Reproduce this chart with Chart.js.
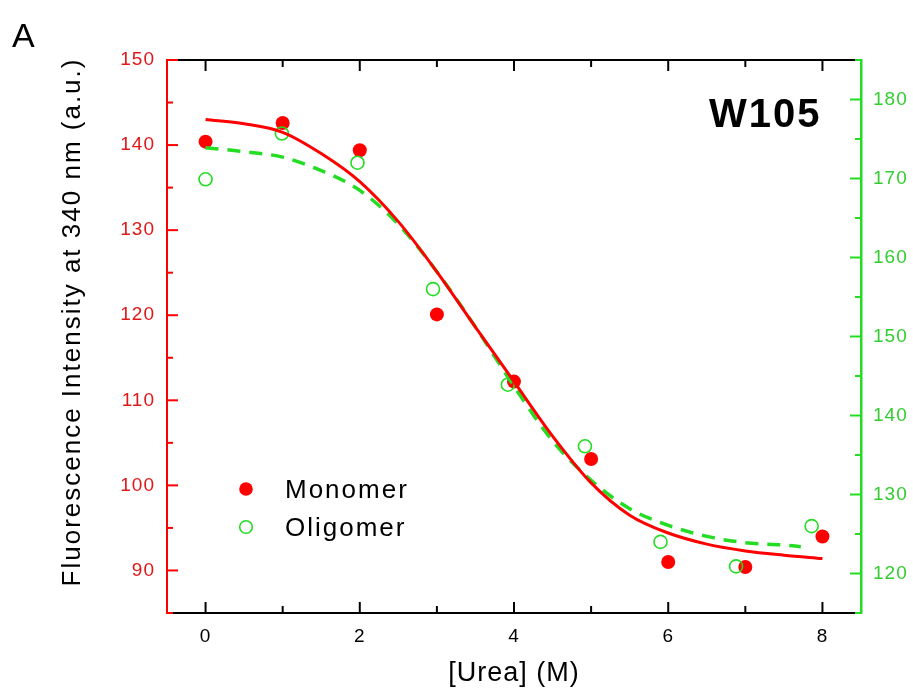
<!DOCTYPE html>
<html>
<head>
<meta charset="utf-8">
<script src="https://cdn.jsdelivr.net/npm/chart.js@4.4.1/dist/chart.umd.min.js"></script>
<style>
  html, body { margin: 0; padding: 0; background: #fff; }
  #wrap { width: 913px; height: 690px; }
</style>
</head>
<body>
<div id="wrap"><canvas id="chart" width="913" height="690"></canvas></div>
<script>
// W105 urea denaturation - fluorescence at 340 nm, monomer (left axis) vs oligomer (right axis)

const ureaMonomer = [0, 1, 2, 3, 4, 5, 6, 7, 8];
const monomerValues = [140.4, 142.6, 139.4, 120.1, 112.2, 103.1, 91.0, 90.4, 94.0];

const ureaOligomer = [0, 0.99, 1.97, 2.95, 3.92, 4.92, 5.9, 6.88, 7.86];
const oligomerValues = [169.9, 175.7, 172.0, 156.0, 143.9, 136.1, 124.0, 120.9, 126.0];

// fitted curves
const monomerFitUrea = [0, 0.5, 1, 1.5, 2, 2.5, 3, 3.5, 4, 4.5, 5, 5.5, 6, 6.5, 7, 7.5, 8];
const monomerFit = [143.0, 142.5, 141.5, 139.0, 135.7, 131.0, 125.1, 118.6, 112.2, 105.8, 100.3, 96.5, 94.4, 93.1, 92.3, 91.8, 91.4];

const oligomerFitUrea = [0, 0.5, 1, 1.5, 2, 2.5, 3, 3.5, 4, 4.5, 5, 5.5, 6, 6.5, 7, 7.5, 7.72];
const oligomerFit = [173.9, 173.4, 172.7, 171.0, 168.5, 164.2, 158.2, 151.2, 143.7, 136.8, 131.8, 128.2, 126.1, 124.7, 123.9, 123.6, 123.4];

// tick labels
const ureaTicks = [0, 2, 4, 6, 8];
const ureaMinorTicks = [1, 3, 5, 7];
const leftTicks = [90, 100, 110, 120, 130, 140, 150];
const leftMinorTicks = [85, 95, 105, 115, 125, 135, 145];
const rightTicks = [120, 130, 140, 150, 160, 170, 180];
const rightMinorTicks = [115, 125, 135, 145, 155, 165, 175, 185];

const RED = '#ff0000';
const RED_TEXT = '#e01818';
const GREEN = '#22dd22';
const GREEN_TEXT = '#33cc33';
const FONT = "'Liberation Sans', Arial, sans-serif";

Chart.defaults.font.family = FONT;

function toPoints(xs, ys) {
  return xs.map((x, i) => ({ x: x, y: ys[i] }));
}

function line(ctx, x1, y1, x2, y2) {
  ctx.beginPath();
  ctx.moveTo(x1, y1);
  ctx.lineTo(x2, y2);
  ctx.stroke();
}

// the original export spaces its letters a little wider than the canvas default
const spacingPlugin = {
  id: 'spacing',
  beforeDraw(chart) {
    chart.ctx.letterSpacing = '1px';
  }
};

// top frame line and inward tick marks on all four sides
const framePlugin = {
  id: 'frame',
  afterDraw(chart) {
    const { ctx, chartArea: a, scales } = chart;
    ctx.save();
    ctx.lineWidth = 2;

    ctx.strokeStyle = '#000';
    line(ctx, a.left, a.top, a.right, a.top);
    ureaTicks.forEach(v => {
      const px = scales.x.getPixelForValue(v);
      line(ctx, px, a.bottom, px, a.bottom - 11);
      line(ctx, px, a.top, px, a.top + 11);
    });
    ureaMinorTicks.forEach(v => {
      const px = scales.x.getPixelForValue(v);
      line(ctx, px, a.bottom, px, a.bottom - 7);
      line(ctx, px, a.top, px, a.top + 7);
    });

    ctx.strokeStyle = RED;
    leftTicks.forEach(v => {
      const py = scales.y.getPixelForValue(v);
      line(ctx, a.left, py, a.left + 11, py);
    });
    leftMinorTicks.forEach(v => {
      const py = scales.y.getPixelForValue(v);
      line(ctx, a.left, py, a.left + 6, py);
    });

    ctx.strokeStyle = GREEN;
    rightTicks.forEach(v => {
      const py = scales.y2.getPixelForValue(v);
      line(ctx, a.right, py, a.right - 11, py);
    });
    rightMinorTicks.forEach(v => {
      const py = scales.y2.getPixelForValue(v);
      line(ctx, a.right, py, a.right - 6, py);
    });
    ctx.restore();
  }
};

// y title, panel letter, sample name and the in-plot legend
const labelPlugin = {
  id: 'labels',
  afterDraw(chart) {
    const { ctx } = chart;
    ctx.save();
    ctx.letterSpacing = '2px';
    ctx.fillStyle = '#000';

    ctx.save();
    ctx.translate(73, 322);
    ctx.rotate(-Math.PI / 2);
    ctx.textAlign = 'center';
    ctx.textBaseline = 'middle';
    ctx.font = '26px ' + FONT;
    ctx.fillText('Fluorescence Intensity at 340 nm (a.u.)', 0, 0);
    ctx.restore();

    ctx.textBaseline = 'alphabetic';
    ctx.textAlign = 'left';

    ctx.font = '34px ' + FONT;
    ctx.fillText('A', 12, 47);

    ctx.font = 'bold 40px ' + FONT;
    ctx.fillText('W105', 709, 127);

    ctx.font = '26px ' + FONT;
    ctx.fillText('Monomer', 285, 498);
    ctx.fillText('Oligomer', 285, 536);

    ctx.fillStyle = RED;
    ctx.beginPath();
    ctx.arc(246, 489, 6.8, 0, Math.PI * 2);
    ctx.fill();

    ctx.strokeStyle = GREEN;
    ctx.lineWidth = 1.6;
    ctx.beginPath();
    ctx.arc(246, 527, 6.3, 0, Math.PI * 2);
    ctx.stroke();
    ctx.restore();
  }
};

new Chart(document.getElementById('chart'), {
  type: 'scatter',
  data: {
    datasets: [
      {
        label: 'Monomer fit',
        data: toPoints(monomerFitUrea, monomerFit),
        yAxisID: 'y',
        showLine: true,
        borderColor: RED,
        borderWidth: 3,
        pointRadius: 0,
        cubicInterpolationMode: 'monotone'
      },
      {
        label: 'Oligomer fit',
        data: toPoints(oligomerFitUrea, oligomerFit),
        yAxisID: 'y2',
        showLine: true,
        borderColor: GREEN,
        borderWidth: 3.5,
        borderDash: [13, 9],
        pointRadius: 0,
        cubicInterpolationMode: 'monotone'
      },
      {
        label: 'Oligomer',
        data: toPoints(ureaOligomer, oligomerValues),
        yAxisID: 'y2',
        pointRadius: 6.5,
        pointBackgroundColor: 'rgba(255,255,255,0)',
        pointBorderColor: GREEN,
        pointBorderWidth: 1.6
      },
      {
        label: 'Monomer',
        data: toPoints(ureaMonomer, monomerValues),
        yAxisID: 'y',
        pointRadius: 7,
        pointBackgroundColor: RED,
        pointBorderColor: RED,
        pointBorderWidth: 0
      }
    ]
  },
  options: {
    responsive: false,
    animation: false,
    layout: { padding: { top: 60, left: 0, right: 0, bottom: 0 } },
    plugins: { legend: { display: false }, tooltip: { enabled: false } },
    scales: {
      x: {
        type: 'linear',
        position: 'bottom',
        min: -0.5,
        max: 8.5,
        afterBuildTicks: s => { s.ticks = ureaTicks.map(v => ({ value: v })); },
        afterFit: s => { s.height = 77; },
        grid: { drawOnChartArea: false, drawTicks: false },
        border: { color: '#000', width: 2 },
        ticks: { color: '#000', font: { size: 19 }, padding: 12, autoSkip: false, maxRotation: 0 },
        title: { display: true, text: '[Urea] (M)', color: '#000', font: { size: 27 }, padding: { top: 0, bottom: 0 } }
      },
      y: {
        type: 'linear',
        position: 'left',
        min: 85,
        max: 150,
        afterBuildTicks: s => { s.ticks = leftTicks.map(v => ({ value: v })); },
        afterFit: s => { s.width = 167; },
        grid: { drawOnChartArea: false, drawTicks: false },
        border: { color: RED, width: 2 },
        ticks: { color: RED_TEXT, font: { size: 19 }, padding: 12, autoSkip: false }
      },
      y2: {
        type: 'linear',
        position: 'right',
        min: 115,
        max: 185,
        afterBuildTicks: s => { s.ticks = rightTicks.map(v => ({ value: v })); },
        afterFit: s => { s.width = 52; },
        grid: { drawOnChartArea: false, drawTicks: false },
        border: { color: GREEN, width: 2.5 },
        ticks: { color: GREEN_TEXT, font: { size: 19 }, padding: 12, autoSkip: false }
      }
    }
  },
  plugins: [spacingPlugin, framePlugin, labelPlugin]
});
</script>
</body>
</html>
